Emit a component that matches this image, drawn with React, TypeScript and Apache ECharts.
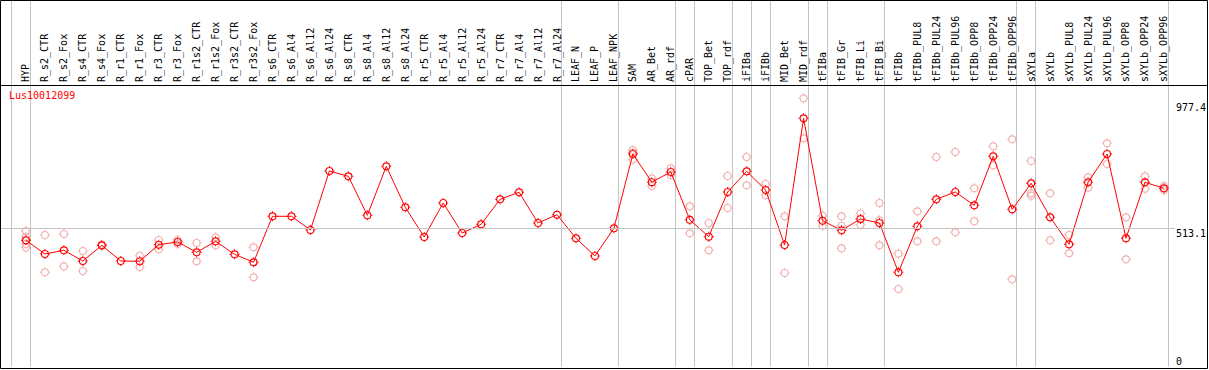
import { useEffect, useRef } from "react";
import * as echarts from "echarts";

const geneId = "Lus10012099";

const categories = [
  "HYP", "R_s2_CTR", "R_s2_Fox", "R_s4_CTR", "R_s4_Fox", "R_r1_CTR", "R_r1_Fox", "R_r3_CTR", "R_r3_Fox",
  "R_r1s2_CTR", "R_r1s2_Fox", "R_r3s2_CTR", "R_r3s2_Fox", "R_s6_CTR", "R_s6_Al4", "R_s6_Al12", "R_s6_Al24",
  "R_s8_CTR", "R_s8_Al4", "R_s8_Al12", "R_s8_Al24", "R_r5_CTR", "R_r5_Al4", "R_r5_Al12", "R_r5_Al24",
  "R_r7_CTR", "R_r7_Al4", "R_r7_Al12", "R_r7_Al24", "LEAF_N", "LEAF_P", "LEAF_NPK", "SAM", "AR_Bet", "AR_rdf",
  "cPAR", "TOP_Bet", "TOP_rdf", "iFIBa", "iFIBb", "MID_Bet", "MID_rdf", "tFIBa", "tFIB_Gr", "tFIB_Li", "tFIB_Bi",
  "tFIBb", "tFIBb_PUL8", "tFIBb_PUL24", "tFIBb_PUL96", "tFIBb_OPP8", "tFIBb_OPP24", "tFIBb_OPP96", "sXYLa",
  "sXYLb", "sXYLb_PUL8", "sXYLb_PUL24", "sXYLb_PUL96", "sXYLb_OPP8", "sXYLb_OPP24", "sXYLb_OPP96",
];

const means = [
  467.6, 416.8, 430.5, 390.9, 449.1, 390.9, 390.0, 451.5, 461.3,
  423.1, 463.9, 415.7, 386.1, 556.5, 556.5, 505.7, 724.3,
  704.7, 560.2, 741.7, 589.8, 479.8, 605.8, 494.6, 526.8,
  619.5, 645.4, 531.7, 562.4, 475.0, 409.4, 512.0, 787.3, 683.0, 721.0,
  543.5, 481.0, 646.5, 723.2, 653.9, 450.2, 919.6, 540.2, 504.6, 546.5, 531.7,
  349.0, 519.5, 619.5, 646.5, 597.3, 778.8, 582.4, 678.8,
  552.8, 452.8, 682.5, 787.3, 475.0, 682.5, 660.2,
];

const replicates: number[][] = [
  [502.0, 479.8, 453.9, 440.9], [487.2, 349.0], [490.9, 371.2], [427.9, 353.8], [452.0, 446.5], [],
  [410.5, 368.7], [468.7, 434.2], [468.7, 453.9],
  [457.6, 389.8], [478.7, 449.1], [], [441.6, 330.5], [], [], [], [],
  [], [], [], [], [], [], [], [],
  [], [], [], [], [], [], [], [802.1, 792.9, 767.0], [697.3, 668.8], [734.3, 709.5],
  [593.6, 493.5], [531.7, 430.5], [705.8, 587.3], [776.2, 671.4], [676.2, 634.3], [556.5, 346.4], [993.7, 845.5],
  [558.7, 521.7], [556.5, 521.7, 437.9], [566.9, 525.0], [605.8, 541.7, 449.1],
  [417.9, 287.1], [575.0, 463.9], [776.2, 463.9], [794.7, 497.2], [660.2, 538.0], [815.9, 745.5], [841.8, 323.1],
  [761.4, 641.7, 632.8],
  [641.7, 467.6], [487.2, 419.4], [701.0, 662.5], [827.0, 750.3], [552.8, 397.2], [704.7, 658.8], [668.8, 653.9],
];

const yTickLabels = [0, 513.1, 977.4];
const referenceLine = 513.1;

// Groups end after these samples ("" = before the first one)
const groupEnds = [
  "", "HYP", "R_r7_Al24", "LEAF_NPK", "AR_rdf", "cPAR", "TOP_rdf", "iFIBa", "iFIBb", "MID_rdf",
  "tFIBa", "tFIB_Bi", "tFIBb_OPP96", "sXYLa", "sXYLb_OPP96",
];

const FONT = "DejaVu Sans Mono";
const X_MIN = -25 / 19;
const X_MAX = 1151 / 19;
const Y_MIN = -5.6;
const Y_MAX = 1043;
const SEP_OFFSET = 4.5 / 19;

const SYMBOL =
  "path://M0,-4A4,4 0 1,1 0,4A4,4 0 1,1 0,-4Z" +
  "M0,-2.9A2.9,2.9 0 1,0 0,2.9A2.9,2.9 0 1,0 0,-2.9Z" +
  "M-0.5,-5L0.5,-5L0.5,-3.6L-0.5,-3.6Z" +
  "M-0.5,3.6L0.5,3.6L0.5,5L-0.5,5Z" +
  "M-5,-0.5L-3.6,-0.5L-3.6,0.5L-5,0.5Z" +
  "M3.6,-0.5L5,-0.5L5,0.5L3.6,0.5Z";

export default function App() {
  const ref = useRef<HTMLDivElement>(null);

  useEffect(() => {
    if (!ref.current) return;
    const chart = echarts.init(ref.current, undefined, { renderer: "svg" });

    const sepPositions = groupEnds.map((n) => categories.indexOf(n) + SEP_OFFSET);
    const meanData = means.map((v, i) => [i, v]);
    const repData: number[][] = [];
    replicates.forEach((arr, i) => arr.forEach((v) => repData.push([i, v])));

    const grayLine = { color: "#c4c4c4", width: 1, type: "solid" as const };

    chart.setOption({
      animation: false,
      title: {
        text: geneId,
        left: 9,
        top: 90,
        padding: 0,
        textStyle: { color: "#ff0000", fontSize: 10, fontWeight: "normal", fontFamily: FONT },
      },
      grid: { left: 1, right: 32, top: 85, bottom: 2, containLabel: false },
      xAxis: [
        {
          type: "value",
          min: X_MIN,
          max: X_MAX,
          position: "top",
          axisLine: { show: false },
          axisTick: { show: false },
          splitLine: { show: false },
          axisLabel: {
            customValues: categories.map((_, i) => i),
            formatter: (v: number) => categories[Math.round(v)] ?? "",
            rotate: 90,
            margin: 3,
            fontFamily: FONT,
            fontSize: 10,
            color: "#000",
          },
        },
        {
          type: "value",
          min: X_MIN,
          max: X_MAX,
          position: "bottom",
          axisLine: { show: false },
          axisLabel: { show: false },
          splitLine: { show: false },
          axisTick: { show: true, customValues: sepPositions, length: 368, inside: true, lineStyle: grayLine },
        },
      ],
      yAxis: [
        {
          type: "value",
          min: Y_MIN,
          max: Y_MAX,
          position: "right",
          axisLine: { show: false },
          axisTick: { show: false },
          splitLine: { show: false },
          axisLabel: {
            customValues: yTickLabels.filter((v) => v > 0),
            formatter: (v: number) => String(v),
            verticalAlign: "top",
            margin: 1,
            fontFamily: FONT,
            fontSize: 10,
            color: "#000",
          },
        },
        {
          type: "value",
          min: Y_MIN,
          max: Y_MAX,
          position: "right",
          axisLine: { show: false },
          axisTick: { show: false },
          splitLine: { show: false },
          axisLabel: {
            customValues: yTickLabels.filter((v) => v === 0),
            formatter: (v: number) => String(v),
            verticalAlign: "bottom",
            margin: 1,
            fontFamily: FONT,
            fontSize: 10,
            color: "#000",
          },
        },
      ],
      graphic: [
        {
          type: "rect",
          shape: { x: 0.5, y: 0.5, width: 1207, height: 368 },
          style: { fill: "none", stroke: "#000", lineWidth: 1 },
          z: 100,
          silent: true,
        },
        {
          type: "line",
          shape: { x1: 0, y1: 85.5, x2: 1208, y2: 85.5 },
          style: { stroke: "#000", lineWidth: 1 },
          z: 100,
          silent: true,
        },
      ],
      series: [
        {
          type: "line",
          data: meanData,
          symbol: "none",
          lineStyle: { width: 0, opacity: 0 },
          silent: true,
          z: 1,
          markLine: {
            silent: true,
            symbol: ["none", "none"],
            label: { show: false },
            lineStyle: grayLine,
            emphasis: { disabled: true },
            data: [{ yAxis: referenceLine }],
          },
        },
        {
          type: "scatter",
          data: repData,
          symbol: SYMBOL,
          symbolSize: 10,
          itemStyle: { color: "#f09c9c" },
          silent: true,
          clip: false,
          z: 2,
        },
        {
          type: "line",
          data: meanData,
          symbol: SYMBOL,
          symbolSize: 10,
          showAllSymbol: true,
          lineStyle: { color: "#ff0000", width: 1 },
          itemStyle: { color: "#ff0000" },
          silent: true,
          clip: false,
          z: 3,
        },
      ],
    });

    return () => chart.dispose();
  }, []);

  return (
    <div
      ref={ref}
      style={{ position: "fixed", left: 0, top: 0, width: 1209, height: 370, background: "#fff" }}
    />
  );
}
